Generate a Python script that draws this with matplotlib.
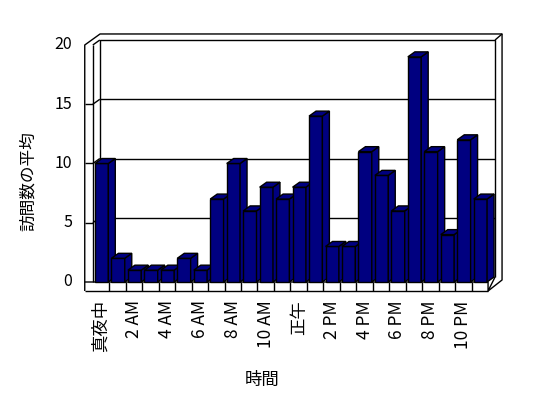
import matplotlib
matplotlib.use("Agg")
import matplotlib.pyplot as plt
from matplotlib.patches import Polygon

plt.rcParams['font.family'] = ['Noto Sans CJK JP', 'DejaVu Sans']

# average visits per hour (0..23)
hours = list(range(24))
visits = [10, 2, 1, 1, 1, 2, 1, 7, 10, 6, 8, 7, 8, 14, 3, 3, 11, 9, 6, 19, 11, 4, 12, 7]
hour_labels = ["真夜中", "2 AM", "4 AM", "6 AM", "8 AM", "10 AM",
               "正午", "2 PM", "4 PM", "6 PM", "8 PM", "10 PM"]
y_ticks = [0, 5, 10, 15, 20]

navy = "#000080"
lw = 1.0

fig = plt.figure(figsize=(5.48, 3.98), dpi=100)
ax = fig.add_axes([0, 0, 1, 1])
ax.set_xlim(-5.636, 27.64)
ax.set_ylim(-9.789, 23.797)
ax.axis("off")

n = len(hours)
ymax = y_ticks[-1]
dx, dy = 0.425, 0.42          # depth offset (front -> back wall)
wall = 0.49                   # thickness of side wall
floor = 0.76                  # thickness of floor
ox, oy = 0.85, 0.93           # outer offset of walls

def line(xs, ys, z=1):
    ax.plot(xs, ys, color="black", lw=lw, zorder=z, solid_capstyle="butt")

# back wall and side wall
line([dx, dx, n + dx, n + dx], [dy, ymax + dy, ymax + dy, dy])
line([0, dx], [ymax, ymax + dy])
line([0, 0], [0, ymax])
for t in y_ticks[1:-1]:
    line([dx, n + dx], [t + dy, t + dy])
    line([0, dx], [t, t + dy])
    line([-wall, 0], [t, t])
# outer outline
line([-wall, -wall, ox - wall + 0.08, n + ox, n + ox, n],
     [-floor, ymax, ymax + oy, ymax + oy, oy - floor, -floor])
line([n + dx, n + ox], [ymax + dy, ymax + oy])
# floor
line([-wall, n, n, n + dx], [0, 0, -floor, dy])
line([-wall, n], [-floor, -floor])
for k in range(1, n):
    line([k, k], [-floor, 0])

# bars with top and side faces
bx0, bw = 0.13, 0.81
for i, (h, v) in enumerate(zip(hours, visits)):
    z = 3 + i * 0.01
    x0 = h + bx0
    x1 = x0 + bw
    ax.bar(x0, v, width=bw, bottom=0, align="edge", color=navy,
           edgecolor="black", linewidth=lw, zorder=z)
    top = Polygon([(x0, v), (x1, v), (x1 + dx, v + dy), (x0 + dx, v + dy)],
                  closed=True, facecolor=navy, edgecolor="black", lw=lw, zorder=z)
    side = Polygon([(x1, 0), (x1 + dx, dy), (x1 + dx, v + dy), (x1, v)],
                   closed=True, facecolor=navy, edgecolor="black", lw=lw, zorder=z)
    ax.add_patch(side)
    ax.add_patch(top)

# tick labels
for t in y_ticks:
    ax.text(-1.26, t, str(t), ha="right", va="center", fontsize=11.5)
for j, lab in enumerate(hour_labels):
    ax.text(hours[j * 2] + 0.5, -1.55, lab, rotation=90, ha="center", va="top",
            fontsize=12.5)

ax.text(-5.636 + 28 / 16.467, 8.5, "訪問数の平均", rotation=90,
        ha="center", va="center", fontsize=12)
ax.text(10.3, -8.3, "時間", ha="center", va="center", fontsize=12.5)

fig.savefig("out.png", dpi=100)
